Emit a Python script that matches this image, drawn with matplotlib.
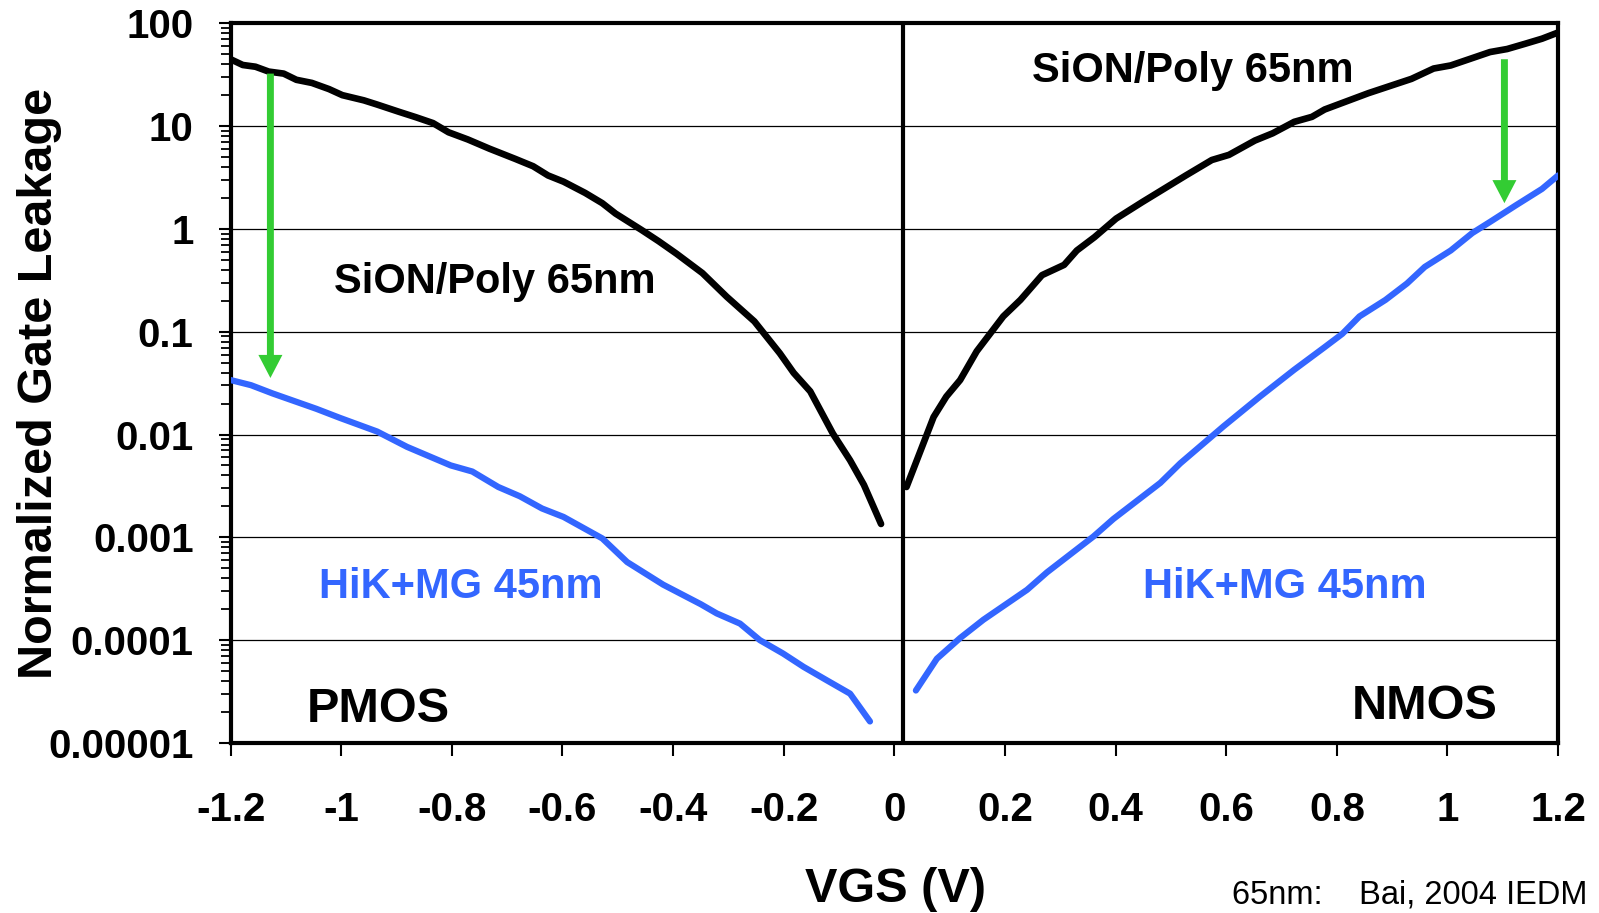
import numpy as np
import matplotlib
matplotlib.use('Agg')
import matplotlib.pyplot as plt
from matplotlib.ticker import LogLocator, NullFormatter

plt.rcParams['font.family'] = ['Liberation Sans', 'DejaVu Sans']
plt.rcParams['font.weight'] = 'bold'

# values (VGS in V, leakage normalized)
pmos_sion_v = [-1.200, -1.178, -1.155, -1.131, -1.104, -1.081, -1.053, -1.022, -0.998,
               -0.959, -0.935, -0.896, -0.865, -0.834, -0.806, -0.771, -0.732, -0.685,
               -0.653, -0.626, -0.598, -0.559, -0.528, -0.504, -0.457, -0.426, -0.394,
               -0.347, -0.303, -0.253, -0.207, -0.182, -0.152, -0.111, -0.080, -0.055,
               -0.024]
pmos_sion_i = [44.7, 39.3, 37.8, 33.9, 32.4, 28.2, 26.3, 22.9, 20.0,
               17.8, 16.2, 13.8, 12.2, 10.7, 8.71, 7.41, 6.03, 4.79,
               4.07, 3.31, 2.88, 2.24, 1.78, 1.41, 0.977, 0.759, 0.575,
               0.372, 0.219, 0.126, 0.0617, 0.0398, 0.0263, 0.0102, 0.00562, 0.00324,
               0.00135]

pmos_hik_v = [-1.200, -1.163, -1.124, -1.045, -1.002, -0.935, -0.881, -0.802, -0.763,
              -0.716, -0.677, -0.637, -0.598, -0.528, -0.483, -0.418, -0.350, -0.321,
              -0.279, -0.243, -0.201, -0.164, -0.122, -0.080, -0.044]
pmos_hik_i = [0.0339, 0.0302, 0.0251, 0.0178, 0.0145, 0.0107, 0.00759, 0.00501, 0.00437,
              0.00309, 0.00251, 0.00191, 0.00158, 0.000977, 0.000575, 0.000347, 0.000224, 0.000182,
              0.000145, 0.000100, 7.41e-5, 5.50e-5, 4.07e-5, 3.02e-5, 1.62e-5]

nmos_sion_v = [0.022, 0.071, 0.094, 0.119, 0.149, 0.197, 0.228, 0.267, 0.307, 0.330,
               0.362, 0.401, 0.448, 0.527, 0.574, 0.605, 0.652, 0.684, 0.723, 0.755,
               0.778, 0.857, 0.935, 0.975, 1.006, 1.077, 1.108, 1.140, 1.171, 1.200]
nmos_sion_i = [0.00309, 0.0148, 0.0234, 0.0339, 0.0646, 0.141, 0.204, 0.355, 0.447, 0.617,
               0.832, 1.26, 1.82, 3.31, 4.68, 5.25, 7.24, 8.51, 11.0, 12.3,
               14.5, 20.9, 28.8, 36.3, 38.9, 52.5, 56.2, 63.1, 70.8, 81.3]

nmos_hik_v = [0.039, 0.077, 0.119, 0.161, 0.240, 0.276, 0.360, 0.396, 0.481, 0.517,
              0.595, 0.661, 0.723, 0.778, 0.810, 0.841, 0.888, 0.927, 0.959, 1.006,
              1.045, 1.077, 1.124, 1.171, 1.200]
nmos_hik_i = [3.24e-5, 6.61e-5, 1.05e-4, 1.58e-4, 3.09e-4, 4.57e-4, 1.02e-3, 1.51e-3, 3.39e-3, 5.25e-3,
              0.0120, 0.0234, 0.0427, 0.0708, 0.0955, 0.141, 0.204, 0.295, 0.427, 0.617,
              0.912, 1.17, 1.70, 2.45, 3.31]

x_ticks = [-1.2, -1.0, -0.8, -0.6, -0.4, -0.2, 0.0, 0.2, 0.4, 0.6, 0.8, 1.0, 1.2]
x_labels = ['-1.2', '-1', '-0.8', '-0.6', '-0.4', '-0.2', '0', '0.2', '0.4', '0.6', '0.8', '1', '1.2']
y_ticks = [1e-5, 1e-4, 1e-3, 1e-2, 1e-1, 1, 10, 100]
y_labels = ['0.00001', '0.0001', '0.001', '0.01', '0.1', '1', '10', '100']

BLUE = '#3366ff'
GREEN = '#33cc33'

fig = plt.figure(figsize=(15.99, 9.13), dpi=100)
ax = fig.add_axes([0.1442, 0.1862, 0.8302, 0.7883])
ax.set_yscale('log')
ax.set_xlim(-1.2, 1.2)
ax.set_ylim(1e-5, 100)

ax.plot(pmos_sion_v, pmos_sion_i, color='black', lw=4.8, solid_capstyle='round', zorder=3)
ax.plot(nmos_sion_v, nmos_sion_i, color='black', lw=4.8, solid_capstyle='round', zorder=3)
ax.plot(pmos_hik_v, pmos_hik_i, color=BLUE, lw=4.5, solid_capstyle='round', zorder=3)
ax.plot(nmos_hik_v, nmos_hik_i, color=BLUE, lw=4.5, solid_capstyle='round', zorder=3)

ax.axvline(0.015, color='black', lw=3, zorder=2)

# green arrows showing the leakage reduction
arrow_style = 'simple,head_length=16.6,head_width=17.3,tail_width=5'
ax.annotate('', xy=(-1.128, 0.0355), xytext=(-1.128, 32.4),
            arrowprops=dict(arrowstyle=arrow_style, mutation_scale=1, color=GREEN,
                            lw=0, shrinkA=0, shrinkB=0), zorder=4)
ax.annotate('', xy=(1.103, 1.78), xytext=(1.103, 44.7),
            arrowprops=dict(arrowstyle=arrow_style, mutation_scale=1, color=GREEN,
                            lw=0, shrinkA=0, shrinkB=0), zorder=4)

ax.text(-0.722, 0.236, 'SiON/Poly 65nm', fontsize=30, ha='center', va='baseline')
ax.text(0.540, 27.0, 'SiON/Poly 65nm', fontsize=30, ha='center', va='baseline')
ax.text(-0.784, 2.55e-4, 'HiK+MG 45nm', fontsize=30, color=BLUE, ha='center', va='baseline')
ax.text(0.706, 2.55e-4, 'HiK+MG 45nm', fontsize=30, color=BLUE, ha='center', va='baseline')
ax.text(-0.933, 1.61e-5, 'PMOS', fontsize=35, ha='center', va='baseline')
ax.text(0.958, 1.70e-5, 'NMOS', fontsize=35, ha='center', va='baseline')

ax.set_xticks(x_ticks, labels=x_labels)
ax.set_yticks(y_ticks, labels=y_labels)
ax.yaxis.set_minor_locator(LogLocator(base=10, subs=np.arange(2, 10)))
ax.yaxis.set_minor_formatter(NullFormatter())
ax.tick_params(axis='x', which='major', direction='out', length=9.5, width=1.5,
               labelsize=29, pad=25)
ax.tick_params(axis='y', which='major', direction='out', length=8.6, width=1.5,
               labelsize=29, pad=18)
ax.tick_params(axis='y', which='minor', direction='out', length=7, width=1.3)

ax.yaxis.grid(True, which='major', color='black', lw=0.9)
ax.set_axisbelow(True)
for sp in ax.spines.values():
    sp.set_linewidth(3)

ax.set_xlabel('VGS (V)', fontsize=35, fontweight='bold')
ax.xaxis.set_label_coords(0.5006, -0.204)
ax.xaxis.label.set_va('center')
ax.set_ylabel('Normalized Gate Leakage', fontsize=35, fontweight='bold')
ax.yaxis.set_label_coords(-0.144, 0.5)
ax.yaxis.label.set_va('center')

fig.text(0.7705, 0.0099, '65nm:    Bai, 2004 IEDM', fontsize=23.5, fontweight='normal',
         va='baseline')

plt.savefig('out.png', dpi=100)
